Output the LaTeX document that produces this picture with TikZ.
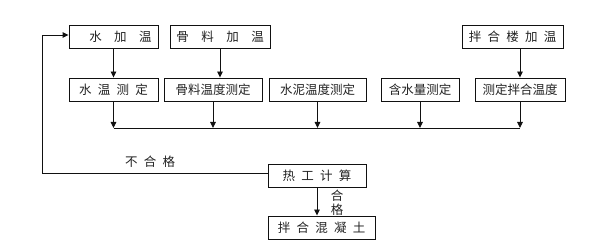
\documentclass[tikz,border=0pt]{standalone}
\usepackage{fontspec}
\newfontfamily\cjk{Noto Sans CJK SC}
\usetikzlibrary{arrows.meta,positioning}
\definecolor{LineBlack}{HTML}{111111}
\definecolor{TextGray}{HTML}{222222}

\begin{document}
\begin{tikzpicture}[x=1pt,y=-1pt,
      every node/.style={font=\cjk\fontsize{12.5}{15}\selectfont,align=center,text=TextGray},
      stepbox/.style={draw=LineBlack,line width=0.9pt,inner sep=0pt,minimum height=23pt},
      arrow/.style={-{Triangle[length=6pt,width=5.5pt]},line width=0.9pt,draw=LineBlack},
      wire/.style={line width=0.9pt,draw=LineBlack}]
      \useasboundingbox (0,0) rectangle (590,251);
      \node[stepbox,minimum width=89pt] (waterheat) at (113.5,36.5) {\hspace{14pt}水\quad 加\quad 温};
      \node[stepbox,minimum width=100pt] (aggheat) at (220,36.5) {骨\quad 料\quad 加\quad 温};
      \node[stepbox,minimum width=101pt] (plantheat) at (512.5,36.5) {拌\enspace 合\enspace 楼\enspace 加\enspace 温};
      \node[stepbox,minimum width=89pt] (watertemp) at (113.5,89.5) {水\enspace 温\enspace 测\enspace 定};
      \node[stepbox,minimum width=98pt] (aggtemp) at (213,89.5) {骨料温度测定};
      \node[stepbox,minimum width=97pt] (cementtemp) at (317.5,89.5) {水泥温度测定};
      \node[stepbox,minimum width=78pt] (moisture) at (420,89.5) {含水量测定};
      \node[stepbox,minimum width=90pt] (mixtemp) at (520,89.5) {测定拌合温度};
      \node[stepbox,minimum width=98pt] (thermal) at (317,175.5) {热\enspace 工\enspace 计\enspace 算};
      \node[stepbox,minimum width=107pt] (concrete) at (321.5,227.5) {拌\enspace 合\enspace 混\enspace 凝\enspace 土};
      \node (fail) at (150,162) {不\enspace 合\enspace 格};
      \node[font=\cjk\fontsize{12.5}{14}\selectfont] (pass) at (337,203) {合\\格};
      \coordinate (bus) at (0,128);
      \draw[arrow] (waterheat)--(watertemp);
      \draw[arrow] (aggheat.south)--(aggheat.south |- aggtemp.north);
      \draw[arrow] (mixtemp.north |- plantheat.south)--(mixtemp.north);
      \draw[arrow] (watertemp.south)--(watertemp.south |- bus);
      \draw[arrow] (aggtemp.south)--(aggtemp.south |- bus);
      \draw[arrow] (cementtemp.south)--(cementtemp.south |- bus);
      \draw[arrow] (moisture.south)--(moisture.south |- bus);
      \draw[arrow] (mixtemp.south)--(mixtemp.south |- bus);
      \draw[wire] (watertemp.south |- bus)--(mixtemp.south |- bus);
      \draw[arrow] ([yshift=2.5pt]thermal.west)--++(-225,0)|-([yshift=1.5pt]waterheat.west);
      \draw[arrow] (thermal.south)--(thermal.south |- concrete.north);
    \end{tikzpicture}
\end{document}
